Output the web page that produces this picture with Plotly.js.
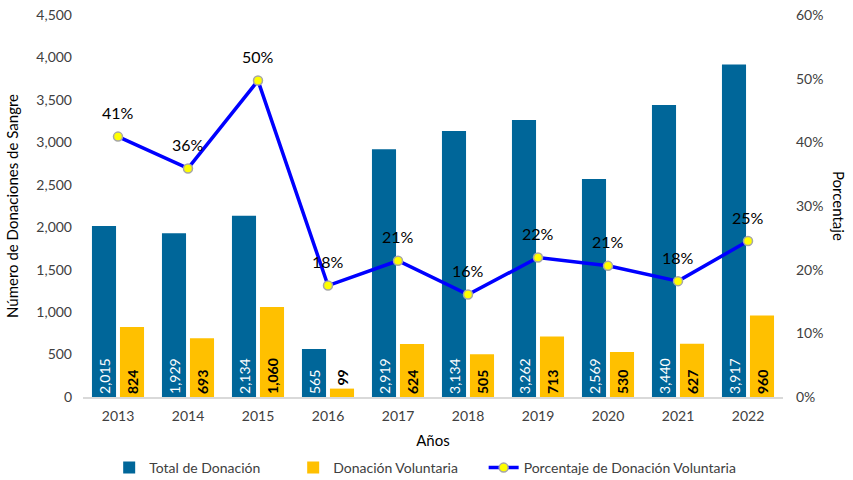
<!DOCTYPE html>
<html>
<head>
<meta charset="utf-8">
<script src="https://cdn.plot.ly/plotly-3.0.1.min.js"></script>
<style>
  html, body { margin: 0; padding: 0; background: #fff; }
  #chart { width: 853px; height: 480px; }
</style>
</head>
<body>
<div id="chart"></div>
<script>
var years = ['2013', '2014', '2015', '2016', '2017', '2018', '2019', '2020', '2021', '2022'];
var totalDonacion = [2015, 1929, 2134, 565, 2919, 3134, 3262, 2569, 3440, 3917];
var donacionVoluntaria = [824, 693, 1060, 99, 624, 505, 713, 530, 627, 960];
var porcentaje = [0.409, 0.359, 0.497, 0.175, 0.214, 0.161, 0.219, 0.206, 0.182, 0.245];

var fontFamily = 'Lato, "Open Sans", sans-serif';

var traces = [
  { x: years,
    y: totalDonacion,
    name: 'Total de Donación',
    type: 'bar',
    marker: {color: '#006699'},
    text: totalDonacion.map(function(v) { return v.toLocaleString('en-US'); }),
    textposition: 'inside',
    insidetextanchor: 'start',
    textangle: -90,
    insidetextfont: {color: '#ffffff', size: 14, family: fontFamily},
    hoverinfo: 'y'
  },
  { x: years,
    y: donacionVoluntaria,
    name: 'Donación Voluntaria',
    type: 'bar',
    marker: {color: '#FFC000'},
    text: donacionVoluntaria.map(function(v) { return '<b>' + v.toLocaleString('en-US') + '</b>'; }),
    textposition: donacionVoluntaria.map(function(v) { return v < 200 ? 'outside' : 'inside'; }),
    insidetextanchor: 'start',
    textangle: -90,
    textfont: {color: '#000000', size: 14, family: fontFamily},
    cliponaxis: false,
    hoverinfo: 'y'
  },
  { x: years,
    y: porcentaje,
    name: 'Porcentaje de Donación Voluntaria',
    type: 'scatter',
    mode: 'lines+markers',
    yaxis: 'y2',
    legend: 'legend2',
    line: {color: '#0000FF', width: 3.5},
    marker: {color: '#FFFF00', size: 9, line: {color: '#A6A6A6', width: 1.5}},
    cliponaxis: false,
    hoverinfo: 'y'
  }
];

// etiquetas de porcentaje sobre cada punto (x = índice de categoría)
var pctLabels = years.map(function(yr, i) {
  return { x: i, y: porcentaje[i], xref: 'x', yref: 'y2',
           text: Math.round(porcentaje[i] * 100) + '%',
           showarrow: false, yshift: 24,
           font: {size: 16, color: '#000000', family: fontFamily} };
});

var legendFont = {size: 14, color: '#404040', family: fontFamily};

var layout = {
  width: 853,
  height: 480,
  margin: {l: 83, r: 70, t: 15, b: 83},
  paper_bgcolor: '#ffffff',
  plot_bgcolor: '#ffffff',
  font: {family: fontFamily, size: 13, color: '#404040'},
  barmode: 'group',
  bargap: 0.2,
  bargroupgap: 0.14,
  showlegend: true,
  legend: {orientation: 'h', x: 0.128, xanchor: 'left', xref: 'container',
           y: 0.025, yanchor: 'middle', yref: 'container',
           entrywidth: 139, font: legendFont, traceorder: 'normal'},
  legend2: {orientation: 'h', x: 0.567, xanchor: 'left', xref: 'container',
            y: 0.025, yanchor: 'middle', yref: 'container',
            font: legendFont},
  xaxis: {
    type: 'category',
    range: [-0.5, 9.5],
    title: {text: 'Años', font: {size: 15, color: '#000000'}, standoff: 12},
    showgrid: false,
    showline: true,
    linecolor: '#D9D9D9',
    linewidth: 1.5,
    ticks: '',
    ticklabelstandoff: 6,
    tickfont: {size: 14, color: '#404040'}
  },
  yaxis: {
    title: {text: 'Número de Donaciones de Sangre', font: {size: 15, color: '#000000'}, standoff: 14},
    range: [0, 4500],
    dtick: 500,
    tickformat: ',d',
    showgrid: false,
    zeroline: false,
    showline: false,
    ticks: '',
    ticklabelstandoff: 10,
    tickfont: {size: 14, color: '#404040'}
  },
  yaxis2: {
    overlaying: 'y',
    side: 'right',
    range: [0, 0.6],
    dtick: 0.1,
    tickformat: '.0%',
    showgrid: false,
    zeroline: false,
    showline: false,
    ticks: '',
    ticklabelstandoff: 12,
    tickfont: {size: 14, color: '#404040'}
  },
  annotations: pctLabels.concat([
    { text: 'Porcentaje', xref: 'paper', yref: 'paper', x: 1.08, y: 0.5,
      xanchor: 'center', yanchor: 'middle', textangle: 90, showarrow: false,
      font: {size: 15, color: '#000000'} }
  ])
};

Plotly.newPlot('chart', traces, layout, {displayModeBar: false, staticPlot: true});
</script>
</body>
</html>
